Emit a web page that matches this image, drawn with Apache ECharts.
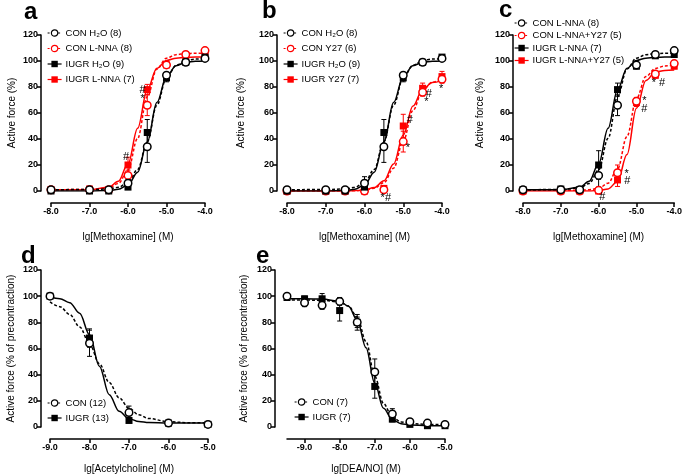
<!DOCTYPE html>
<html><head><meta charset="utf-8">
<script src="https://cdn.jsdelivr.net/npm/echarts@6/dist/echarts.min.js"></script>
<style>html,body{margin:0;padding:0;background:#fff}#c{width:685px;height:475px}</style>
</head><body><div id="c"></div>
<script>
// ---------- x values ----------
const xMetho = [-8, -7, -6.5, -6, -5.5, -5, -4.5, -4];
const xAch = [-9, -8, -7, -6, -5];
const xDea = [-9.5, -9, -8.5, -8, -7.5, -7, -6.5, -6, -5.5, -5];
const fitXMetho = [-8, -7, -6.5, -6.25, -6, -5.75, -5.5, -5.25, -5, -4.75, -4.5, -4.25, -4];
const fitXAch = [-9, -8.75, -8.5, -8.25, -8, -7.75, -7.5, -7.25, -7, -6.75, -6.5, -6, -5.5, -5];
const fitXDea = [-9.5, -9, -8.5, -8, -7.75, -7.5, -7.25, -7, -6.75, -6.5, -6.25, -6, -5.5, -5];
const deaTickVals = [-9, -8, -7, -6, -5];

// ---------- panel a ----------
const aConH2O = [1, 1, 1, 6, 34, 89, 99, 102];
const aConH2OErr = [0, 0, 0, 3, 12, 2, 1, 1];
const aConLnna = [1, 1, 1, 12, 66, 97, 105, 108];
const aConLnnaErr = [0, 0, 0, 4, 8, 2, 1, 1];
const aIugrH2O = [0, 0, 0, 3, 45, 87, 99, 103];
const aIugrH2OErr = [0, 0, 0, 1, 10, 3, 1, 1];
const aIugrLnna = [1, 1.5, 1, 20, 78, 97, 104, 105];
const aIugrLnnaErr = [0, 0, 0, 6, 4, 2, 1, 1];
const aConH2OFit = [1, 1.1, 1.6, 2.8, 6.5, 16.5, 37.9, 66, 87, 96.7, 100.3, 101.5, 101.8];
const aIugrH2OFit = [0, 0, 0.4, 1.3, 4.6, 14.5, 37.6, 68, 88, 96.4, 99, 99.8, 100];
const aConLnnaFit = [1, 1.1, 2.4, 5.8, 16.2, 40.5, 72.5, 93.8, 102.2, 104.9, 105.7, 106, 106];
const aIugrLnnaFit = [1, 1, 2.9, 7.5, 20.9, 48.2, 77.8, 94.4, 100.4, 102.2, 102.8, 103, 103];
const aAnnX = [-5.62, -5.62, -6.05];
const aAnnY = [77.6, 70.7, 26.2];
const aAnnT = ['#', '*', '#'];

// ---------- panel b ----------
const bConH2O = [1, 1, 1, 6, 34, 89, 99, 102];
const bConH2OErr = [0, 0, 0, 5, 12, 2, 1, 1];
const bConY27 = [0, 0, 0, 0, 1, 38, 76, 86];
const bConY27Err = [0, 0, 0, 0, 1, 8, 3, 3];
const bIugrH2O = [0, 0, 0, 3, 45, 87, 99, 103];
const bIugrH2OErr = [0, 0, 0, 1, 10, 3, 1, 1];
const bIugrY27 = [0, 0, 0, 0, 2, 50, 79, 88];
const bIugrY27Err = [0, 0, 0, 0, 1, 9, 4, 4];
const bConH2OFit = [1, 1.1, 1.6, 2.8, 6.5, 16.5, 37.9, 66, 87, 96.7, 100.3, 101.5, 101.8];
const bIugrH2OFit = [0, 0, 0.4, 1.3, 4.6, 14.5, 37.6, 68, 88, 96.4, 99, 99.8, 100];
const bConY27Fit = [0, 0, 0, 0.2, 0.7, 2.1, 6.4, 17.5, 38.5, 62, 77.3, 83.7, 85.9];
const bIugrY27Fit = [0, 0, 0, 0.1, 0.85, 2.6, 7.8, 20.7, 43, 65.3, 78.2, 83.4, 85.1];
const bAnnX = [-4.34, -4.4, -4.02, -4.83, -4.88, -5.45];
const bAnnY = [74.5, 68.6, 78.4, 55, 33.4, -5.7];
const bAnnT = ['#', '*', '*', '#', '*', '*#'];

// ---------- panel c ----------
const cConLnna = [1, 1, 1, 12, 66, 97, 105, 108];
const cConLnnaErr = [0, 0, 0, 9, 8, 2, 1, 1];
const cConLnnaY27 = [0, 0, 0, 0.5, 14, 69, 90, 98];
const cConLnnaY27Err = [0, 0, 0, 1, 6, 3, 2, 2];
const cIugrLnna = [1, 1.5, 1, 20, 78, 96, 104, 105];
const cIugrLnnaErr = [0, 0, 0, 11, 5, 2, 1, 1];
const cIugrLnnaY27 = [0, 0, 0, 0, 8.5, 68, 89, 96];
const cIugrLnnaY27Err = [0, 0, 0, 1, 5, 3, 2, 2];
const cConLnnaFit = [1, 1.1, 2.4, 5.8, 16.2, 40.5, 72.5, 93.8, 102.2, 104.9, 105.7, 106, 106];
const cIugrLnnaFit = [1, 1, 2.9, 7.5, 20.9, 48.2, 77.8, 94.4, 100.4, 102.2, 102.8, 103, 103];
const cConLnnaY27Fit = [0.5, 0.5, 0.5, 1, 2.1, 6, 17, 42, 71, 88, 94.3, 96.2, 96.8];
const cIugrLnnaY27Fit = [0, 0, 0, 0, 0.3, 1.6, 7.4, 28, 63.7, 85, 91.4, 92.7, 93];
const cAnnX = [-4.42, -4.79, -4.79, -5.26, -5.24, -5.9];
const cAnnY = [82.8, 69.3, 63, 13.2, 7.4, -4.6];
const cAnnT = ['* #', '*', '#', '*', '#', '#'];

// ---------- panel d ----------
const dCon = [100, 64, 11, 3, 2];
const dConErr = [0, 10, 5, 1, 0];
const dIugr = [100, 68, 5, 3, 2];
const dIugrErr = [0, 7, 1, 1, 0];
const dConFit = [95.6, 92, 86, 76.5, 63.6, 48.4, 34, 22.3, 14.3, 9.3, 6.5, 4, 3.3, 3.1];
const dIugrFit = [99.3, 98.1, 95, 87, 70.5, 46.5, 24.7, 12, 6.4, 4.2, 3.4, 3.05, 3, 3];

// ---------- panel e ----------
const eCon = [100, 95, 93, 96, 80, 42, 10, 4, 3, 2];
const eConErr = [1, 3, 3, 3, 4, 10, 4, 1, 1, 1];
const eIugr = [99, 98, 98, 89, 80, 31, 6, 2, 1, 1];
const eIugrErr = [1, 2, 4, 8, 6, 9, 2, 1, 1, 1];
const eConFit = [97, 97, 96.9, 95.5, 92.5, 84, 65.3, 38.8, 17.8, 7.6, 3.9, 2.6, 2, 2];
const eIugrFit = [98, 98, 97.8, 96.1, 92.3, 81.8, 60.5, 33.4, 14.3, 5.6, 2.5, 1.5, 1, 1];

// ---------- styling ----------
const FONT = '"Liberation Sans", Arial, Helvetica, sans-serif';
const RED = '#ff0000', BLACK = '#000000';
const ZW = '\u200b';

function pairs(xs, ys) { return xs.map((x, i) => [x, ys[i]]); }

function fitSeries(idx, xs, ys, color, dashed) {
  return {
    type: 'line', xAxisIndex: idx, yAxisIndex: idx, data: pairs(xs, ys),
    symbol: 'none', smooth: 0.35, smoothMonotone: 'x', silent: true, z: 2,
    lineStyle: { color: color, width: 1.5, type: dashed ? [3, 2] : 'solid' }
  };
}
function errSeries(idx, xs, ys, es, color) {
  return {
    type: 'custom', xAxisIndex: idx, yAxisIndex: idx, silent: true, z: 3,
    data: xs.map((x, i) => [x, ys[i], es[i]]),
    renderItem: function (params, api) {
      const x = api.value(0), y = api.value(1), e = api.value(2);
      if (!e) return;
      const t = api.coord([x, y + e]), b = api.coord([x, y - e]);
      const cw = 2.5, st = { stroke: color, lineWidth: 1 };
      return {
        type: 'group', children: [
          { type: 'line', shape: { x1: t[0], y1: t[1], x2: b[0], y2: b[1] }, style: st },
          { type: 'line', shape: { x1: t[0] - cw, y1: t[1], x2: t[0] + cw, y2: t[1] }, style: st },
          { type: 'line', shape: { x1: b[0] - cw, y1: b[1], x2: b[0] + cw, y2: b[1] }, style: st }
        ]
      };
    }
  };
}
function markSeries(idx, name, xs, ys, color, open) {
  return {
    type: 'line', name: name, xAxisIndex: idx, yAxisIndex: idx, data: pairs(xs, ys),
    symbol: open ? 'circle' : 'rect', symbolSize: open ? 7.5 : 7, showSymbol: true, showAllSymbol: true,
    silent: true, z: 4,
    itemStyle: { color: open ? '#fff' : color, borderColor: color, borderWidth: open ? 1.5 : 0 },
    lineStyle: { opacity: 0 }
  };
}
function annSeries(idx, xs, ys, ts) {
  return {
    type: 'custom', xAxisIndex: idx, yAxisIndex: idx, silent: true, z: 5,
    data: pairs(xs, ys),
    renderItem: function (params, api) {
      const p = api.coord([api.value(0), api.value(1)]);
      return { type: 'text', x: p[0], y: p[1], style: { text: ts[params.dataIndex], fill: '#000', font: '11px ' + FONT, align: 'center', verticalAlign: 'middle' } };
    }
  };
}
function group(idx, name, xs, ys, es, fx, fy, color, open, dashed) {
  return [fitSeries(idx, fx, fy, color, dashed), errSeries(idx, xs, ys, es, color), markSeries(idx, name, xs, ys, color, open)];
}
function legItem(name, color, open, dashed) {
  return {
    name: name,
    itemStyle: { color: open ? '#fff' : color, borderColor: color, borderWidth: open ? 1.2 : 0, opacity: 1 },
    lineStyle: { color: color, width: 1.2, type: dashed ? [2, 1.5] : 'solid', opacity: 1 }
  };
}
function legend(left, top, gap, items) {
  return {
    left: left, top: top, orient: 'vertical', itemWidth: 14, itemHeight: 8, itemGap: gap,
    padding: 0, selectedMode: false,
    textStyle: { fontFamily: FONT, fontSize: 9.5, color: '#000', padding: [0, 0, 0, -1] },
    data: items
  };
}
const axisLineStyle = { color: '#000', width: 1.5 };
function xAx(idx, min, max, interval, name, gap, customTicks) {
  const ax = {
    type: 'value', gridIndex: idx, min: min, max: max, interval: interval, offset: 12,
    name: name, nameLocation: 'middle', nameGap: gap,
    nameTextStyle: { fontFamily: FONT, fontSize: 10, color: '#000' },
    axisLine: { show: true, onZero: false, lineStyle: axisLineStyle },
    axisTick: { show: true, length: 4, lineStyle: axisLineStyle },
    axisLabel: { show: true, color: '#000', fontFamily: FONT, fontSize: 9, fontWeight: 'bold', margin: 4,
      showMinLabel: true, showMaxLabel: true, formatter: v => v.toFixed(1) },
    splitLine: { show: false }
  };
  if (customTicks) {
    ax.axisTick.customValues = customTicks;
    ax.axisLabel.customValues = customTicks;
  }
  return ax;
}
function yAx(idx, name, gap, off) {
  return {
    type: 'value', gridIndex: idx, min: 0, max: 120, interval: 20, offset: off,
    name: name, nameLocation: 'middle', nameGap: gap,
    nameTextStyle: { fontFamily: FONT, fontSize: 10, color: '#000' },
    axisLine: { show: true, onZero: false, lineStyle: axisLineStyle },
    axisTick: { show: true, length: 4, lineStyle: axisLineStyle },
    axisLabel: { show: true, color: '#000', fontFamily: FONT, fontSize: 9, fontWeight: 'bold', margin: 3,
      showMinLabel: true, showMaxLabel: true },
    splitLine: { show: false }
  };
}
function panelLabel(txt, x, y) {
  return { type: 'text', x: x, y: y, style: { text: txt, font: 'bold 24px ' + FONT, fill: '#000', verticalAlign: 'middle' } };
}

const series = [].concat(
  group(0, 'IUGR L-NNA (7)', xMetho, aIugrLnna, aIugrLnnaErr, fitXMetho, aIugrLnnaFit, RED, false, false),
  group(0, 'CON L-NNA (8)', xMetho, aConLnna, aConLnnaErr, fitXMetho, aConLnnaFit, RED, true, true),
  group(0, 'IUGR H₂O (9)', xMetho, aIugrH2O, aIugrH2OErr, fitXMetho, aIugrH2OFit, BLACK, false, false),
  group(0, 'CON H₂O (8)', xMetho, aConH2O, aConH2OErr, fitXMetho, aConH2OFit, BLACK, true, true),
  [annSeries(0, aAnnX, aAnnY, aAnnT)],

  group(1, 'IUGR Y27 (7)', xMetho, bIugrY27, bIugrY27Err, fitXMetho, bIugrY27Fit, RED, false, false),
  group(1, 'CON Y27 (6)', xMetho, bConY27, bConY27Err, fitXMetho, bConY27Fit, RED, true, true),
  group(1, 'IUGR H₂O (9)' + ZW, xMetho, bIugrH2O, bIugrH2OErr, fitXMetho, bIugrH2OFit, BLACK, false, false),
  group(1, 'CON H₂O (8)' + ZW, xMetho, bConH2O, bConH2OErr, fitXMetho, bConH2OFit, BLACK, true, true),
  [annSeries(1, bAnnX, bAnnY, bAnnT)],

  group(2, 'IUGR L-NNA+Y27 (5)', xMetho, cIugrLnnaY27, cIugrLnnaY27Err, fitXMetho, cIugrLnnaY27Fit, RED, false, false),
  group(2, 'CON L-NNA+Y27 (5)', xMetho, cConLnnaY27, cConLnnaY27Err, fitXMetho, cConLnnaY27Fit, RED, true, true),
  group(2, 'IUGR L-NNA (7)' + ZW, xMetho, cIugrLnna, cIugrLnnaErr, fitXMetho, cIugrLnnaFit, BLACK, false, false),
  group(2, 'CON L-NNA (8)' + ZW, xMetho, cConLnna, cConLnnaErr, fitXMetho, cConLnnaFit, BLACK, true, true),
  [annSeries(2, cAnnX, cAnnY, cAnnT)],

  group(3, 'IUGR (13)', xAch, dIugr, dIugrErr, fitXAch, dIugrFit, BLACK, false, false),
  group(3, 'CON (12)', xAch, dCon, dConErr, fitXAch, dConFit, BLACK, true, true),

  group(4, 'IUGR (7)', xDea, eIugr, eIugrErr, fitXDea, eIugrFit, BLACK, false, false),
  group(4, 'CON (7)', xDea, eCon, eConErr, fitXDea, eConFit, BLACK, true, true)
);

const option = {
  animation: false,
  backgroundColor: '#fff',
  grid: [
    { left: 51, top: 35, width: 154, height: 156 },
    { left: 287, top: 35, width: 155, height: 156 },
    { left: 523, top: 35, width: 155, height: 156 },
    { left: 50, top: 270, width: 158, height: 157 },
    { left: 287, top: 270, width: 158, height: 157 }
  ],
  xAxis: [
    xAx(0, -8, -4, 1, 'lg[Methoxamine] (M)', 29),
    xAx(1, -8, -4, 1, 'lg[Methoxamine] (M)', 29),
    xAx(2, -8, -4, 1, 'lg[Methoxamine] (M)', 29),
    xAx(3, -9, -5, 1, 'lg[Acetylcholine] (M)', 25),
    xAx(4, -9.5, -5, 0.5, 'lg[DEA/NO] (M)', 25, deaTickVals)
  ],
  yAxis: [
    yAx(0, 'Active force (%)', 24, 10),
    yAx(1, 'Active force (%)', 31, 10),
    yAx(2, 'Active force (%)', 28, 10),
    yAx(3, 'Active force (% of precontraction)', 25, 9),
    yAx(4, 'Active force (% of precontraction)', 26, 12)
  ],
  legend: [
    legend(47, 28, 5.5, [legItem('CON H₂O (8)', BLACK, true, true), legItem('CON L-NNA (8)', RED, true, true),
      legItem('IUGR H₂O (9)', BLACK, false, false), legItem('IUGR L-NNA (7)', RED, false, false)]),
    legend(283, 28, 5.5, [legItem('CON H₂O (8)' + ZW, BLACK, true, true), legItem('CON Y27 (6)', RED, true, true),
      legItem('IUGR H₂O (9)' + ZW, BLACK, false, false), legItem('IUGR Y27 (7)', RED, false, false)]),
    legend(514, 18, 2.5, [legItem('CON L-NNA (8)' + ZW, BLACK, true, true), legItem('CON L-NNA+Y27 (5)', RED, true, true),
      legItem('IUGR L-NNA (7)' + ZW, BLACK, false, false), legItem('IUGR L-NNA+Y27 (5)', RED, false, false)]),
    legend(47, 398, 5, [legItem('CON (12)', BLACK, true, true), legItem('IUGR (13)', BLACK, false, false)]),
    legend(294, 397, 5, [legItem('CON (7)', BLACK, true, true), legItem('IUGR (7)', BLACK, false, false)])
  ],
  graphic: [
    panelLabel('a', 24, 12),
    panelLabel('b', 262, 11),
    panelLabel('c', 499, 10),
    panelLabel('d', 21, 256),
    panelLabel('e', 256, 256)
  ],
  series: series
};
const chart = echarts.init(document.getElementById('c'), null, { renderer: 'canvas' });
chart.setOption(option);
</script>
</body></html>
